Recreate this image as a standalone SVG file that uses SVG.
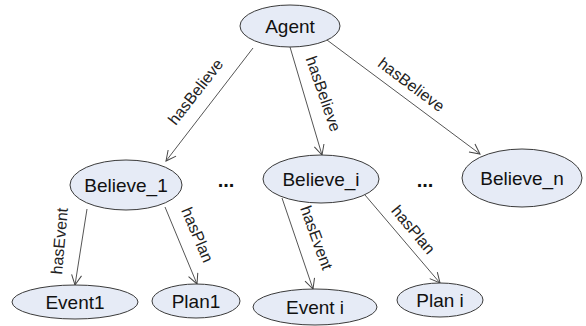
<svg xmlns="http://www.w3.org/2000/svg" width="586" height="326" viewBox="0 0 586 326">
<defs>
<marker id="arr" markerUnits="userSpaceOnUse" markerWidth="14" markerHeight="12" refX="11" refY="6" orient="auto">
<path d="M1,1 L11,6 L1,11" fill="none" stroke="#444" stroke-width="1"/>
</marker>
<style>
.n ellipse{fill:#e6ebf6;stroke:#3a3a3a;stroke-width:1}
.n text{font-family:"Liberation Sans",Arial,sans-serif;font-size:19px;fill:#111;text-anchor:middle}
.e line{stroke:#555;stroke-width:1;marker-end:url(#arr)}
.lbl{font-family:"Liberation Sans",Arial,sans-serif;font-size:16px;fill:#222;text-anchor:middle}
.dots{font-family:"Liberation Sans",Arial,sans-serif;font-size:20px;font-weight:bold;fill:#111;text-anchor:middle}
</style>
</defs>
<rect width="586" height="326" fill="#fff"/>
<g id="edges" class="e">
<line x1="253" y1="48" x2="166" y2="161"/>
<line x1="290" y1="47" x2="322" y2="155"/>
<line x1="327" y1="40" x2="480" y2="154"/>
<line x1="87" y1="209" x2="75" y2="285"/>
<line x1="165" y1="207" x2="197" y2="284"/>
<line x1="282" y1="198" x2="313" y2="289"/>
<line x1="365" y1="195" x2="440" y2="283"/>
</g>
<g id="edge-labels">
<text class="lbl" transform="translate(196,92) rotate(-52)" y="5">hasBelieve</text>
<text class="lbl" transform="translate(323,94) rotate(71)" y="5">hasBelieve</text>
<text class="lbl" transform="translate(411,85) rotate(37)" y="5">hasBelieve</text>
<text class="lbl" transform="translate(60,241) rotate(-85)" y="5">hasEvent</text>
<text class="lbl" transform="translate(197,235) rotate(67)" y="5">hasPlan</text>
<text class="lbl" transform="translate(316,238) rotate(70)" y="5">hasEvent</text>
<text class="lbl" transform="translate(413,230) rotate(50)" y="5">hasPlan</text>
</g>
<g id="agent" class="n"><ellipse cx="290" cy="26" rx="50" ry="21"/><text x="290" y="33">Agent</text></g>
<g id="believe1" class="n"><ellipse cx="126" cy="185" rx="56" ry="25"/><text x="126" y="192">Believe_1</text></g>
<g id="believei" class="n"><ellipse cx="321" cy="179" rx="58" ry="24"/><text x="321" y="186">Believe_i</text></g>
<g id="believen" class="n"><ellipse cx="522" cy="178" rx="60" ry="29"/><text x="522" y="185">Believe_n</text></g>
<g id="event1" class="n"><ellipse cx="75" cy="302" rx="63" ry="17"/><text x="75" y="309">Event1</text></g>
<g id="plan1" class="n"><ellipse cx="196" cy="301" rx="44" ry="17"/><text x="196" y="308">Plan1</text></g>
<g id="eventi" class="n"><ellipse cx="315" cy="307" rx="62" ry="18"/><text x="315" y="314">Event i</text></g>
<g id="plani" class="n"><ellipse cx="440" cy="300" rx="43" ry="17"/><text x="440" y="307">Plan i</text></g>
<text class="dots" x="226" y="187">...</text>
<text class="dots" x="425" y="187">...</text>
</svg>
